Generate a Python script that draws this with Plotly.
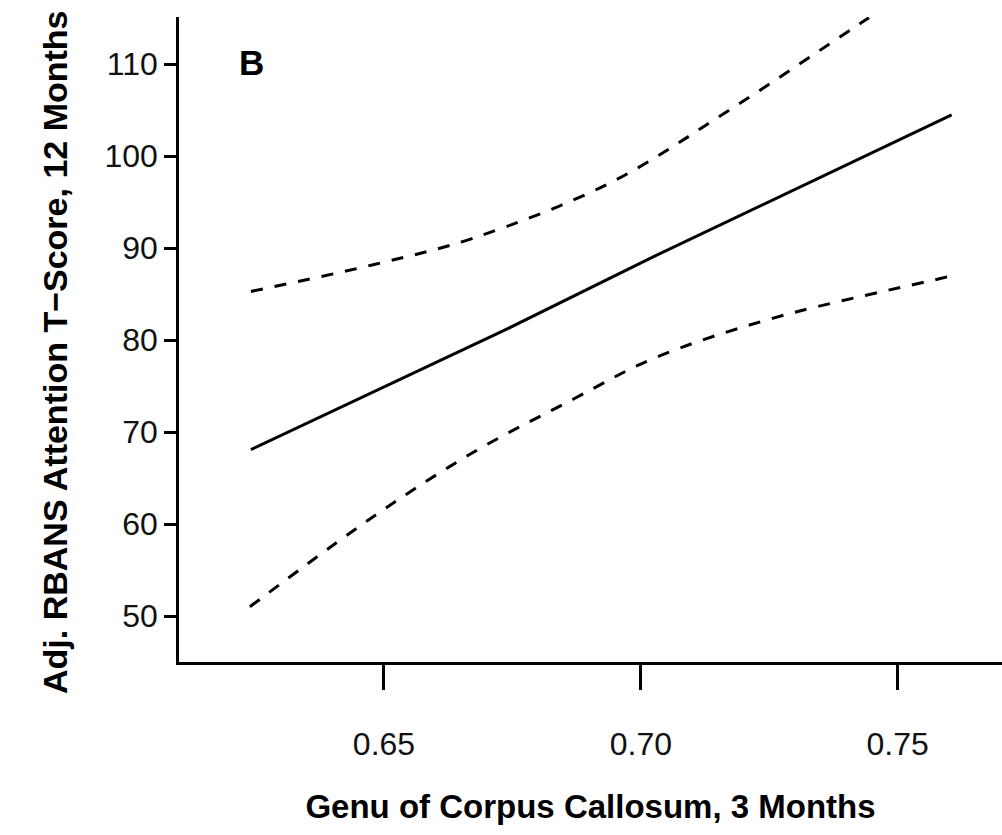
import plotly.graph_objects as go

# Fitted regression line (Genu FA at 3 months vs adjusted RBANS attention at 12 months)
fit_x = [0.6241, 0.6479, 0.6739, 0.7018, 0.7505, 0.7605]
fit_y = [68.1, 74.4, 81.2, 88.9, 101.8, 104.5]

# Upper confidence band
upper_x = [0.6241, 0.6479, 0.6674, 0.6940, 0.7180, 0.7434, 0.7605]
upper_y = [85.3, 88.2, 91.1, 97.1, 105.3, 114.7, 121.0]

# Lower confidence band
lower_x = [0.6239, 0.6479, 0.6674, 0.6869, 0.7024, 0.7258, 0.7583, 0.7605]
lower_y = [51.0, 60.8, 67.8, 73.6, 78.0, 82.4, 86.7, 87.0]

x_ticks = [0.65, 0.70, 0.75]
x_tick_labels = ["0.65", "0.70", "0.75"]
y_ticks = [50, 60, 70, 80, 90, 100, 110]
y_tick_labels = ["50", "60", "70", "80", "90", "100", "110"]

panel_label = "B"
x_title = "Genu of Corpus Callosum, 3 Months"
y_title = "Adj. RBANS Attention T\u2212Score, 12 Months"

FONT = "Liberation Sans, Arial, Helvetica, sans-serif"

fig = go.Figure()
fig.add_trace(go.Scatter(x=upper_x, y=upper_y, mode="lines", line_shape="spline",
                         line=dict(color="black", width=3, dash="12px,12px"),
                         showlegend=False, hoverinfo="skip"))
fig.add_trace(go.Scatter(x=lower_x, y=lower_y, mode="lines", line_shape="spline",
                         line=dict(color="black", width=3, dash="12px,12px"),
                         showlegend=False, hoverinfo="skip"))
fig.add_trace(go.Scatter(x=fit_x, y=fit_y, mode="lines",
                         line=dict(color="black", width=3),
                         showlegend=False, hoverinfo="skip"))

fig.add_annotation(text="<b>%s</b>" % panel_label, xref="paper", yref="paper",
                   x=0.071, y=0.929, xanchor="left", yanchor="middle",
                   showarrow=False, font=dict(family=FONT, size=35, color="black"))

# y-axis title (placed as rotated text so it can sit slightly below the plot centre)
fig.add_annotation(text="<b>%s</b>" % y_title, xref="paper", yref="paper",
                   x=-0.1507, y=0.4806, xanchor="center", yanchor="middle",
                   textangle=-90, showarrow=False,
                   font=dict(family=FONT, size=34, color="black"))

fig.update_layout(
    width=1002, height=835,
    margin=dict(l=179, r=0, t=17, b=173, autoexpand=False),
    paper_bgcolor="white", plot_bgcolor="white",
    font=dict(family=FONT, color="black"),
    xaxis=dict(range=[0.6101, 0.7703], tickvals=x_ticks, ticktext=x_tick_labels,
               showgrid=False, zeroline=False, showline=True, linecolor="black",
               linewidth=2.5, ticks="outside", ticklen=25, tickwidth=2.5,
               tickcolor="black", tickfont=dict(family=FONT, size=32, color="#111"),
               ticklabelstandoff=27,
               title=dict(text="<b>%s</b>" % x_title, standoff=34,
                          font=dict(family=FONT, size=33, color="black"))),
    yaxis=dict(range=[45.0, 115.14], tickvals=y_ticks, ticktext=y_tick_labels,
               showgrid=False, zeroline=False, showline=True, linecolor="black",
               linewidth=2.5, ticks="outside", ticklen=12, tickwidth=2.5,
               tickcolor="black", tickfont=dict(family=FONT, size=32, color="#111"),
               ticklabelstandoff=0),
)

fig.write_html("out.html")
